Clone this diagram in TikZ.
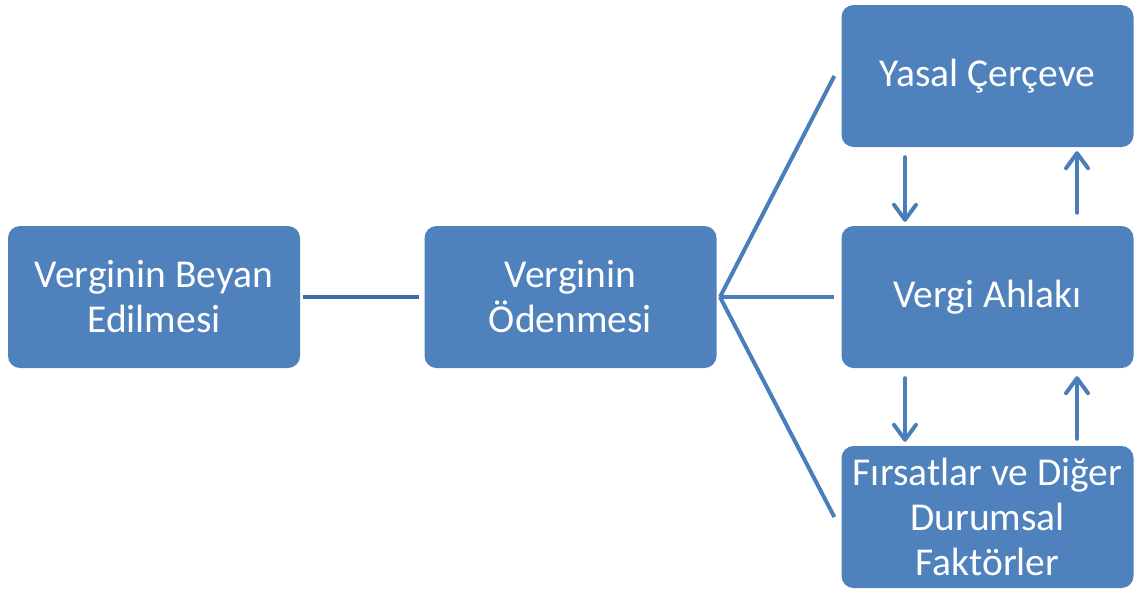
\documentclass[tikz,border=0pt]{standalone}
\usepackage{fontspec}
\setmainfont{Carlito}
\usetikzlibrary{arrows.meta,calc}
\definecolor{boxblue}{HTML}{4F81BD}
\definecolor{linkblue}{HTML}{4A7EBB}
\definecolor{darkline}{HTML}{3F6CA3}
\begin{document}
\begin{tikzpicture}[x=1pt,y=-1pt,
  box/.style={draw=none,fill=boxblue,rounded corners=12pt,minimum width=292pt,minimum height=142pt,
    text=white,font=\fontsize{39.5}{45}\selectfont,align=center,inner sep=0pt},
  link/.style={draw=linkblue,line width=4pt},
  flow/.style={draw=linkblue,line width=4pt,line cap=round,-{Straight Barb[length=15pt,width=22pt,line cap=round,line join=round]}}]
\useasboundingbox (0,0) rectangle (1135,590);
\node[box] (A) at (154,297) {Verginin Beyan\\Edilmesi};
\node[box] (B) at (570.5,297) {Verginin\\Ödenmesi};
\node[box] (C) at (987.5,76) {Yasal Çerçeve};
\node[box] (D) at (987.5,297) {Vergi Ahlakı};
\node[box] (E) at (987.5,517) {Fırsatlar ve Diğer\\Durumsal\\Faktörler};
\coordinate (hub) at (720,297);
\draw[draw=darkline,line width=4pt] ([xshift=3pt]A.east) -- ([xshift=-5pt]B.west);
\draw[link] (hub) -- ([xshift=-7pt]C.west);
\draw[link] (hub) -- ([xshift=-7pt]D.west);
\draw[link] (hub) -- ([xshift=-7pt]E.west);
\draw[flow] ($(C.south)+(-82.5,10)$) -- ($(D.north)+(-82.5,-4)$);
\draw[flow] ($(D.north)+(89.5,-13)$) -- ($(C.south)+(89.5,4)$);
\draw[flow] ($(D.south)+(-82.5,10)$) -- ($(E.north)+(-82.5,-4)$);
\draw[flow] ($(E.north)+(89.5,-7)$) -- ($(D.south)+(89.5,8)$);
\end{tikzpicture}
\end{document}
